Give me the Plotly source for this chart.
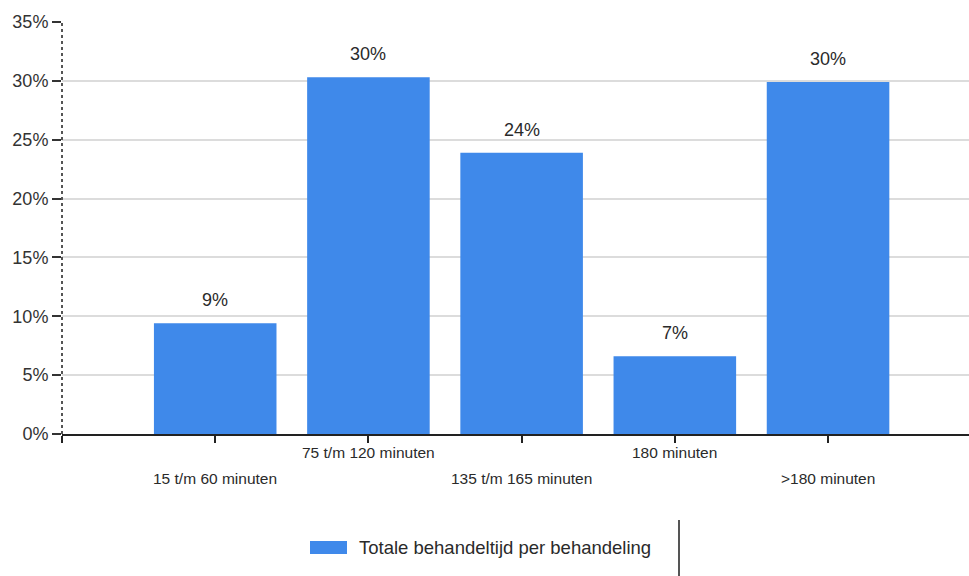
import plotly.graph_objects as go

categories = ["15 t/m 60 minuten", "75 t/m 120 minuten", "135 t/m 165 minuten", "180 minuten", ">180 minuten"]
values = [9.4, 30.3, 23.9, 6.6, 29.9]
series_name = "Totale behandeltijd per behandeling"
y_ticks = [0, 5, 10, 15, 20, 25, 30, 35]

x_pos = list(range(len(categories)))
bar_color = "#3F89EA"
font_family = "Liberation Sans, Arial, sans-serif"

PW, PH, L, T = 907, 412, 62, 22


def px_x(px):
    return (px - L) / PW


def px_y(py):
    return (T + PH - py) / PH


fig = go.Figure()
fig.add_trace(go.Bar(
    x=x_pos, y=values, name=series_name, marker=dict(color=bar_color, line=dict(width=0)),
    width=0.8, showlegend=False,
))

annotations = []
for i, v in enumerate(values):
    annotations.append(dict(x=x_pos[i], y=v, xref="x", yref="y", text=f"{round(v)}%",
                            showarrow=False, yshift=23, yanchor="middle",
                            font=dict(size=18, color="#2A2A2A", family=font_family)))
for i, c in enumerate(categories):
    annotations.append(dict(x=x_pos[i], y=0, xref="x", yref="paper", text=c,
                            showarrow=False, yshift=(-44 if i % 2 == 0 else -18), yanchor="middle",
                            font=dict(size=15.5, color="#2A2A2A", family=font_family)))
# legend text
annotations.append(dict(x=px_x(357), y=px_y(547), xref="paper", yref="paper", text=series_name,
                        showarrow=False, xanchor="left", yanchor="middle",
                        font=dict(size=18.5, color="#2A2A2A", family=font_family)))

fig.update_layout(
    width=969, height=576,
    margin=dict(l=L, r=0, t=T, b=576 - T - PH),
    plot_bgcolor="white", paper_bgcolor="white",
    font=dict(family=font_family, color="#333333"),
    showlegend=False,
    annotations=annotations,
    xaxis=dict(range=[-1, 4.92], tickvals=[-1] + x_pos, ticktext=[""] * (len(x_pos) + 1),
               showgrid=False, zeroline=False, showline=True, linecolor="#222222", linewidth=2,
               ticks="outside", ticklen=7, tickwidth=2, tickcolor="#222222"),
    yaxis=dict(range=[0, 35], tickvals=y_ticks, ticktext=[f"{t}%" for t in y_ticks],
               showgrid=True, gridcolor="#DCDCDC", gridwidth=1.5, zeroline=False, showline=False,
               ticks="outside", ticklen=9, tickwidth=2, tickcolor="#333333",
               tickfont=dict(size=18, color="#333333")),
    shapes=[
        dict(type="line", xref="paper", yref="paper", x0=0, x1=0, y0=0, y1=1,
             line=dict(color="#555555", width=2, dash="dot")),
        dict(type="rect", xref="paper", yref="paper", x0=px_x(310), x1=px_x(347),
             y0=px_y(554), y1=px_y(541), fillcolor=bar_color, line=dict(width=0)),
        dict(type="line", xref="paper", yref="paper", x0=px_x(679), x1=px_x(679),
             y0=px_y(520), y1=px_y(576),
             line=dict(color="#555555", width=2)),
    ],
)

fig.write_html("out.html")
